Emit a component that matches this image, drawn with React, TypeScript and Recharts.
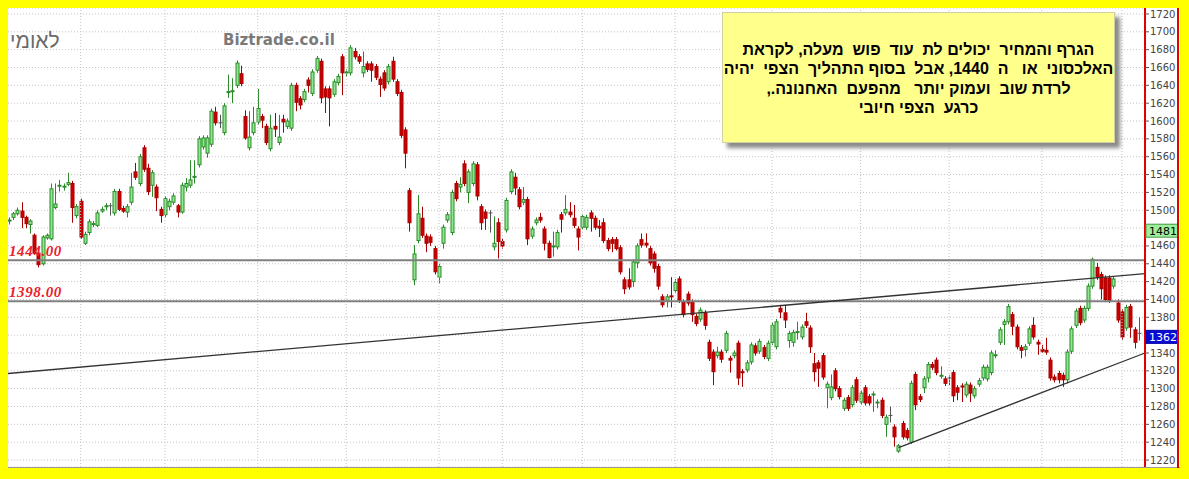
import { ComposedChart, Bar, XAxis, YAxis, CartesianGrid, ReferenceLine } from 'recharts'

const opens = [
  1488, 1492, 1496, 1499, 1492, 1484, 1472, 1452, 1440, 1469, 1468, 1503, 1527, 1526, 1529, 1530, 1494, 1510, 1463, 1475,
  1484, 1483, 1499, 1504, 1505, 1497, 1521, 1502, 1498, 1509, 1543, 1530, 1570, 1547, 1528,
  1526, 1501, 1495, 1504, 1509, 1505, 1498, 1526, 1528, 1537, 1551, 1571, 1564, 1574, 1610, 1598, 1587, 1632, 1633, 1640,
  1653, 1605, 1570, 1587, 1599, 1605, 1594, 1569, 1594, 1576, 1602, 1594, 1592, 1640,
  1625, 1624, 1646, 1631, 1657, 1667, 1636, 1636, 1630, 1643, 1672, 1654, 1654, 1678, 1672, 1654, 1664, 1664, 1661, 1647,
  1654, 1644, 1667, 1644, 1632, 1590, 1522, 1422, 1466, 1491, 1471, 1470, 1457, 1425, 1463, 1489,
  1475, 1530, 1526, 1552, 1520, 1530, 1551, 1504, 1498, 1497, 1459, 1486, 1465, 1478, 1521, 1537, 1523, 1509, 1512, 1471,
  1486, 1492, 1479, 1463, 1459, 1459, 1495, 1497, 1498, 1491, 1479, 1481, 1481, 1497, 1491,
  1482, 1486, 1466, 1467, 1467, 1458, 1422, 1422, 1420, 1441, 1467, 1463, 1457, 1451, 1437, 1403, 1399, 1404, 1410, 1423,
  1397, 1406, 1397, 1381, 1378, 1385, 1352, 1341, 1337, 1341, 1343, 1334, 1337, 1351, 1319, 1321,
  1330, 1348, 1342, 1346, 1334, 1352, 1347, 1390, 1385, 1354, 1352, 1363, 1358, 1375, 1368, 1328, 1329, 1337, 1301, 1290,
  1320, 1300, 1278, 1290, 1282, 1310, 1285, 1301, 1291, 1293, 1284, 1287, 1260, 1270, 1257, 1230,
  1261, 1253, 1240, 1316, 1291, 1301, 1312, 1327, 1332, 1314, 1311, 1312, 1318, 1301, 1303, 1293, 1304, 1292, 1305, 1312,
  1311, 1318, 1337, 1352, 1372, 1375, 1383, 1369, 1346, 1344, 1351, 1371, 1352,
  1344, 1343, 1332, 1313, 1317, 1315, 1310, 1342, 1371, 1390, 1377, 1390, 1415, 1436, 1428, 1424, 1424, 1415, 1396, 1386,
  1368, 1392, 1366, 1362,
]

const highs = [
  1492, 1498, 1503, 1509, 1494, 1490, 1474, 1455, 1472, 1474, 1530, 1530, 1534, 1530, 1542, 1533, 1507, 1513, 1476, 1490,
  1488, 1500, 1504, 1508, 1508, 1524, 1524, 1505, 1507, 1542, 1553, 1563, 1573, 1552, 1545,
  1529, 1504, 1516, 1513, 1519, 1507, 1531, 1536, 1556, 1556, 1583, 1584, 1584, 1614, 1616, 1607, 1620, 1652, 1648, 1668,
  1662, 1612, 1611, 1616, 1636, 1608, 1597, 1607, 1609, 1607, 1607, 1603, 1643, 1643,
  1628, 1636, 1649, 1658, 1673, 1670, 1639, 1639, 1647, 1653, 1675, 1658, 1685, 1682, 1675, 1678, 1667, 1667, 1664, 1650,
  1657, 1664, 1672, 1647, 1635, 1593, 1525, 1461, 1517, 1504, 1474, 1473, 1460, 1440, 1484, 1498,
  1523, 1533, 1537, 1556, 1546, 1555, 1554, 1507, 1501, 1500, 1493, 1491, 1468, 1514, 1546, 1542, 1526, 1526, 1515, 1482,
  1492, 1497, 1482, 1466, 1476, 1478, 1498, 1517, 1509, 1506, 1482, 1496, 1495, 1500, 1494,
  1489, 1491, 1469, 1470, 1470, 1461, 1425, 1435, 1445, 1463, 1474, 1474, 1460, 1454, 1440, 1406, 1406, 1425, 1423, 1426,
  1400, 1409, 1400, 1384, 1391, 1388, 1355, 1344, 1347, 1344, 1365, 1337, 1343, 1354, 1322, 1332,
  1352, 1351, 1356, 1349, 1354, 1374, 1378, 1394, 1394, 1365, 1366, 1375, 1372, 1385, 1371, 1340, 1332, 1340, 1308, 1316,
  1323, 1303, 1290, 1293, 1304, 1313, 1298, 1304, 1294, 1297, 1288, 1290, 1271, 1280, 1260, 1238,
  1264, 1256, 1309, 1319, 1294, 1314, 1330, 1330, 1335, 1325, 1314, 1315, 1321, 1304, 1306, 1308, 1307, 1303, 1312, 1327,
  1327, 1343, 1343, 1369, 1378, 1395, 1386, 1372, 1349, 1350, 1370, 1380, 1355,
  1349, 1357, 1335, 1316, 1320, 1318, 1344, 1370, 1390, 1393, 1393, 1418, 1447, 1441, 1431, 1427, 1427, 1426, 1400, 1389,
  1394, 1395, 1369, 1380,
]

const lows = [
  1484, 1489, 1494, 1480, 1480, 1474, 1450, 1436, 1438, 1467, 1466, 1501, 1521, 1522, 1527, 1486, 1491, 1468, 1461, 1472,
  1481, 1481, 1497, 1500, 1494, 1494, 1499, 1497, 1492, 1506, 1534, 1527, 1543, 1517, 1515,
  1499, 1486, 1492, 1500, 1506, 1492, 1496, 1521, 1525, 1530, 1548, 1568, 1559, 1571, 1595, 1592, 1584, 1626, 1620, 1637,
  1639, 1579, 1567, 1584, 1596, 1592, 1573, 1566, 1582, 1573, 1587, 1591, 1589, 1611,
  1613, 1621, 1632, 1628, 1654, 1620, 1609, 1594, 1627, 1640, 1629, 1650, 1651, 1669, 1664, 1649, 1655, 1644, 1646, 1627,
  1634, 1641, 1644, 1628, 1581, 1547, 1476, 1416, 1463, 1469, 1453, 1460, 1428, 1418, 1457, 1486,
  1472, 1510, 1520, 1527, 1508, 1527, 1511, 1478, 1478, 1475, 1455, 1446, 1457, 1475, 1518, 1517, 1501, 1506, 1461, 1468,
  1483, 1486, 1455, 1446, 1448, 1456, 1475, 1494, 1492, 1480, 1455, 1478, 1478, 1476, 1478,
  1470, 1463, 1454, 1453, 1455, 1428, 1406, 1411, 1414, 1435, 1458, 1458, 1438, 1430, 1411, 1391, 1391, 1391, 1407, 1396,
  1380, 1393, 1375, 1370, 1375, 1366, 1331, 1304, 1334, 1329, 1340, 1318, 1334, 1304, 1302, 1318,
  1327, 1337, 1339, 1333, 1331, 1349, 1344, 1379, 1368, 1346, 1347, 1355, 1355, 1368, 1340, 1308, 1302, 1310, 1278, 1287,
  1297, 1288, 1275, 1275, 1279, 1284, 1282, 1281, 1281, 1274, 1278, 1267, 1246, 1262, 1235, 1228,
  1243, 1242, 1238, 1276, 1285, 1295, 1307, 1321, 1315, 1311, 1303, 1304, 1285, 1287, 1285, 1290, 1285, 1289, 1302, 1309,
  1308, 1315, 1334, 1349, 1349, 1372, 1360, 1344, 1334, 1336, 1348, 1355, 1338,
  1340, 1338, 1309, 1307, 1306, 1302, 1306, 1339, 1368, 1371, 1374, 1387, 1412, 1422, 1400, 1397, 1396, 1412, 1374, 1355,
  1365, 1357, 1345, 1354,
]

const closes = [
  1489, 1496, 1500, 1492, 1485, 1488, 1452, 1439, 1470, 1472, 1524, 1507, 1528, 1527, 1531, 1503, 1504, 1470, 1473, 1487,
  1485, 1497, 1501, 1505, 1505, 1521, 1501, 1499, 1504, 1526, 1537, 1560, 1546, 1521, 1542,
  1514, 1494, 1513, 1510, 1516, 1498, 1528, 1530, 1534, 1538, 1580, 1581, 1581, 1611, 1598, 1598, 1617, 1633, 1634, 1665,
  1642, 1581, 1582, 1598, 1614, 1601, 1576, 1592, 1591, 1582, 1599, 1600, 1640, 1621,
  1618, 1633, 1640, 1655, 1670, 1626, 1627, 1626, 1644, 1650, 1654, 1655, 1682, 1672, 1667, 1661, 1658, 1657, 1649, 1641,
  1637, 1661, 1647, 1631, 1584, 1564, 1486, 1451, 1496, 1472, 1463, 1464, 1431, 1437, 1481, 1495,
  1520, 1513, 1529, 1530, 1543, 1552, 1516, 1486, 1491, 1497, 1463, 1465, 1460, 1511, 1543, 1525, 1504, 1512, 1468, 1479,
  1489, 1489, 1463, 1447, 1460, 1475, 1490, 1501, 1495, 1483, 1470, 1493, 1492, 1491, 1481,
  1480, 1466, 1457, 1463, 1457, 1431, 1412, 1414, 1442, 1460, 1461, 1461, 1441, 1435, 1415, 1394, 1403, 1403, 1419, 1399,
  1383, 1396, 1383, 1373, 1388, 1371, 1334, 1319, 1341, 1333, 1362, 1332, 1340, 1312, 1318, 1329,
  1349, 1340, 1353, 1336, 1351, 1371, 1375, 1386, 1377, 1362, 1363, 1364, 1369, 1371, 1347, 1319, 1323, 1313, 1305, 1302,
  1300, 1291, 1287, 1278, 1301, 1287, 1295, 1284, 1284, 1294, 1285, 1270, 1268, 1270, 1246, 1236,
  1246, 1245, 1306, 1282, 1288, 1311, 1327, 1324, 1318, 1315, 1306, 1312, 1292, 1296, 1302, 1305, 1295, 1300, 1309, 1324,
  1324, 1340, 1338, 1366, 1375, 1392, 1370, 1347, 1343, 1347, 1367, 1358, 1350,
  1342, 1341, 1312, 1310, 1310, 1310, 1341, 1367, 1387, 1374, 1390, 1415, 1445, 1425, 1412, 1400, 1399, 1423, 1377, 1358,
  1391, 1369, 1352, 1362,
]

const priceTicks = [
  1220, 1240, 1260, 1280, 1300, 1320, 1340, 1360, 1380, 1400, 1420, 1440, 1460, 1480, 1500, 1520, 1540, 1560, 1580, 1600,
  1620, 1640, 1660, 1680, 1700, 1720,
]

// index of first candle of each month
const monthStarts = [17, 37, 59, 80, 102, 117, 136, 158, 181, 202, 223, 245, 264]

const levels = [1444, 1398]
const markerPrice = 1481
const lastPrice = 1362
const tagValues = [markerPrice, lastPrice]

const longTrend = [{ x: -0.24, y: 1317 }, { x: 269.45, y: 1429 }]
const supportTrend = [{ x: 211, y: 1234 }, { x: 269.45, y: 1340 }]

const data = opens.map((o, i) => ({
  i,
  open: o,
  high: highs[i],
  low: lows[i],
  close: closes[i],
  range: [lows[i], highs[i]],
}))

function Candle(props: any) {
  const { x, y, width, height, payload } = props
  if (!payload) return null
  const { open, close, high, low } = payload
  const top = Math.min(y, y + height)
  const h = Math.abs(height)
  const span = high - low || 1
  const toY = (v: number) => top + ((high - v) / span) * h
  const cx = Math.round(x + width / 2) + 0.5
  const flat = open === close
  const up = close > open
  const stroke = flat ? '#555' : up ? '#2a8a2a' : '#a80000'
  const fill = up ? '#8ee88e' : '#cc0000'
  const bTop = toY(Math.max(open, close))
  const bBot = toY(Math.min(open, close))
  return (
    <g>
      <line x1={cx} x2={cx} y1={top} y2={top + h} stroke={stroke} strokeWidth={1} />
      {flat ? (
        <line x1={cx - 2} x2={cx + 2} y1={bTop} y2={bTop} stroke={stroke} strokeWidth={1} />
      ) : (
        <rect x={cx - 1.5} y={bTop} width={3} height={Math.max(bBot - bTop, 1)} fill={fill} stroke={stroke} strokeWidth={1} />
      )}
    </g>
  )
}

function LevelLabel(props: any) {
  const vb = props.viewBox
  if (!vb) return null
  return (
    <text
      x={vb.x + 1}
      y={vb.y - 4}
      fill="#e8202a"
      fontSize={15}
      fontStyle="italic"
      fontWeight="bold"
      fontFamily="Liberation Serif, serif"
      letterSpacing={0.6}
    >
      {props.text}
    </text>
  )
}

// price tags drawn on a thin second axis so they sit above the normal ticks
function TagTick(props: any) {
  const { x, y, payload } = props
  const v = payload.value
  const isLast = v === lastPrice
  const left = x - 33
  return (
    <g>
      <rect
        x={left}
        y={y - 3}
        width={32}
        height={13}
        fill={isLast ? '#0a0ad8' : '#9cf09c'}
        stroke={isLast ? '#0000a0' : '#4a9a4a'}
      />
      <text x={left + 3} y={y + 7.5} fill={isLast ? '#fff' : '#000'} fontSize={11} fontFamily="DejaVu Sans, sans-serif">
        {v}
      </text>
    </g>
  )
}

export default function App() {
  return (
    <div style={{ position: 'fixed', left: 0, top: 0, width: 1189, height: 479, background: '#ffff00' }}>
      <div style={{ position: 'absolute', left: 8, top: 8, width: 1172, height: 459, background: '#fff', borderBottom: '1px solid #999' }}>
        <ComposedChart width={1172} height={459} data={data} margin={{ top: 0, right: 0, bottom: 0, left: 0 }}>
          <CartesianGrid vertical={false} stroke="#c4c4c4" strokeDasharray="1 2" />
          <XAxis type="number" dataKey="i" domain={[-0.24, 269.45]} allowDataOverflow hide />
          <YAxis
            orientation="right"
            width={34}
            domain={[1212.2, 1726.7]}
            allowDataOverflow
            ticks={priceTicks}
            interval={0}
            axisLine={{ stroke: '#e00000', strokeWidth: 2 }}
            tickLine={{ stroke: '#555' }}
            tickSize={4}
            tickMargin={1}
            tick={{ fontSize: 10, fill: '#444', fontFamily: 'DejaVu Sans, sans-serif' }}
          />
          <YAxis
            yAxisId="tags"
            orientation="right"
            width={1}
            domain={[1212.2, 1726.7]}
            allowDataOverflow
            ticks={tagValues}
            interval={0}
            axisLine={false}
            tickLine={false}
            tickSize={0}
            tickMargin={0}
            tick={<TagTick />}
          />
          {monthStarts.map(m => (
            <ReferenceLine key={m} x={m} stroke="#c4c4c4" strokeDasharray="1 2" />
          ))}
          {levels.map(l => (
            <ReferenceLine key={l} y={l} stroke="#808080" strokeWidth={2} label={<LevelLabel text={l.toFixed(2)} />} />
          ))}
          <ReferenceLine segment={longTrend} stroke="#333" strokeWidth={1.3} />
          <ReferenceLine segment={supportTrend} stroke="#333" strokeWidth={1.3} />
          <Bar dataKey="range" barSize={4} shape={<Candle />} isAnimationActive={false} />
        </ComposedChart>
      </div>
      <div style={{ position: 'absolute', left: 1177, top: 8, width: 2, height: 460, background: '#e00000' }} />
      <div
        style={{
          position: 'absolute',
          left: 10,
          top: 29,
          fontSize: 21,
          color: '#6a6a6a',
          fontFamily: 'Liberation Sans, sans-serif',
          direction: 'rtl',
        }}
      >
        לאומי
      </div>
      <div
        style={{
          position: 'absolute',
          left: 223,
          top: 31,
          fontSize: 15,
          fontWeight: 'bold',
          color: '#7a7a7a',
          fontFamily: 'DejaVu Sans, sans-serif',
        }}
      >
        Biztrade.co.il
      </div>
      <div
        style={{
          position: 'absolute',
          left: 722,
          top: 12,
          width: 393,
          height: 131,
          boxSizing: 'border-box',
          background: '#ffff8c',
          border: '1px solid #d0d0a0',
          boxShadow: '5px 5px 4px #8a8a8a',
          paddingTop: 27,
          textAlign: 'center',
          direction: 'rtl',
          whiteSpace: 'pre',
          fontFamily: 'Liberation Sans, Arial, sans-serif',
          fontWeight: 'bold',
          fontSize: 16,
          lineHeight: '19.3px',
          color: '#000',
        }}
      >
        <div>{'הגרף והמחיר  יכולים לת  עוד  פוש  מעלה, לקראת'}</div>
        <div>{'האלכסוני  או   ה  1440, אבל  בסוף התהליך  הצפי  יהיה'}</div>
        <div>{'לרדת שוב  ועמוק יותר   מהפעם  האחנונה.,'}</div>
        <div>{'כרגע  הצפי חיובי'}</div>
      </div>
    </div>
  )
}
